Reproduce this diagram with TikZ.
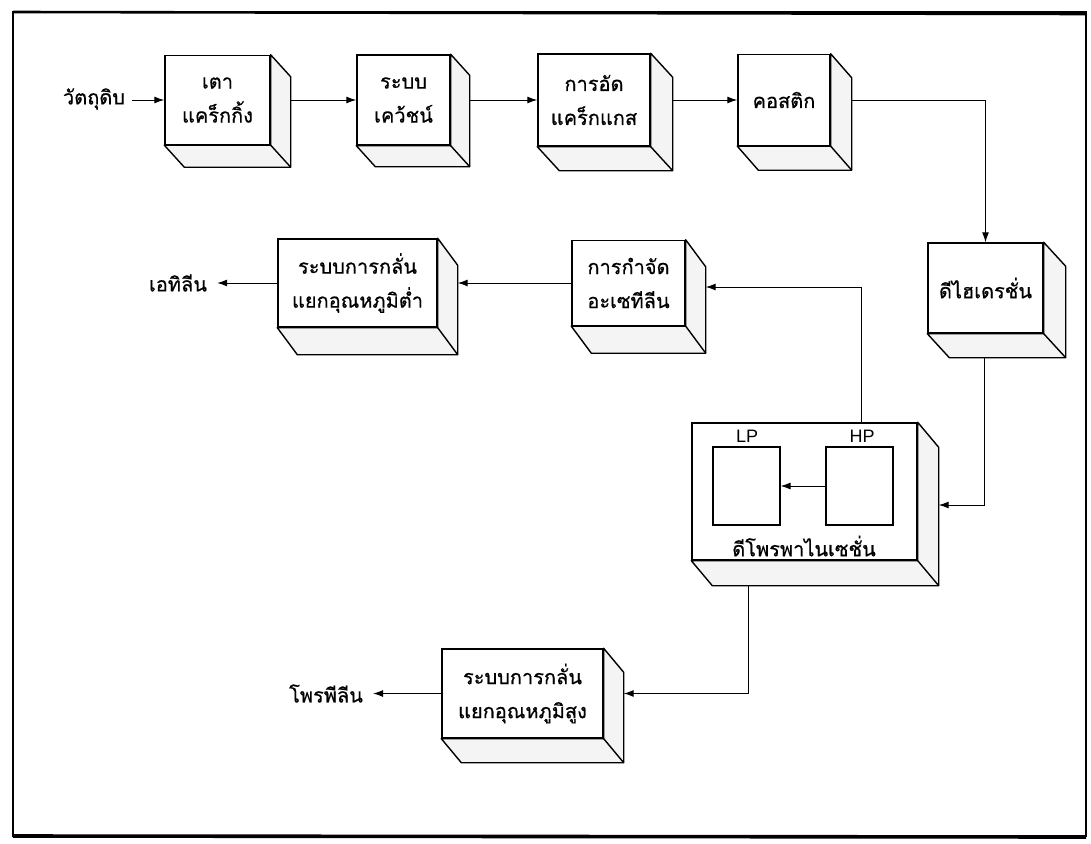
\documentclass[tikz,border=0pt]{standalone}
\usepackage{fontspec}
\setmainfont{Liberation Sans}
\newfontfamily\thaifont[Script=Thai,FakeBold=0.6]{Loma}
\usetikzlibrary{arrows.meta,calc}
\tikzset{
  face/.style={draw=black, line width=1.4pt, fill=white, inner sep=0pt, align=center,
    font=\thaifont\fontsize{20}{34}\selectfont},
  side/.style={draw=black, line width=1.4pt, fill=gray!9, line join=round},
  conn/.style={line width=1pt, -{Latex[length=10pt,width=7pt]}},
  lbl/.style={font=\thaifont\fontsize{20}{24}\selectfont, inner sep=0pt},
  smallbox/.style={draw, line width=1.2pt, inner sep=0pt, minimum width=67pt, minimum height=78pt},
  latin/.style={font=\fontsize{18}{20}\selectfont, inner sep=0pt},
}
\newcommand\cubesides[3]{%
  \filldraw[side] (#1.north east) -- ++(#2,#3) -- ($(#1.south east)+(#2,#3)$)
    -- ($(#1.south west)+(#2,#3)$) -- (#1.south west) -- (#1.south east) -- cycle;
  \draw[side,fill=none] (#1.south east) -- ++(#2,#3);
}
\begin{document}
\begin{tikzpicture}[x=1pt,y=-1pt]
\useasboundingbox (0,0) rectangle (1091,843);
% frame
\draw[line width=1.6pt] (13,12) rectangle (1086,836);
\draw[line width=2.6pt] (13,12) -- (1086,14);
\draw[line width=3.6pt] (13,836) -- (1086,837);

% top row
\node[face, minimum width=105pt, minimum height=89pt] (crack) at (217.5,100) {เตา\\แคร็กกิ้ง};
\cubesides{crack}{20}{22}
\node[face, minimum width=93pt, minimum height=90pt] (quench) at (403.5,100) {ระบบ\\เคว้ชน์};
\cubesides{quench}{19}{21}
\node[face, minimum width=112pt, minimum height=92pt] (comp) at (594,100) {การอัด\\แคร็กแกส};
\cubesides{comp}{22}{24}
\node[face, minimum width=92pt, minimum height=91pt] (caus) at (784,100) {คอสติก};
\cubesides{caus}{21}{24}
\node[face, minimum width=115pt, minimum height=90pt] (dehyd) at (985.5,288) {ดีไฮเดรชั่น};
\cubesides{dehyd}{22}{24}

% second row
\node[face, minimum width=113pt, minimum height=85pt] (acet) at (628.5,283) {การกำจัด\\อะเซทีลีน};
\cubesides{acet}{20}{27}
\node[face, minimum width=159pt, minimum height=88pt] (low) at (357.5,283) {ระบบการกลั่น\\แยกอุณหภูมิต่ำ};
\cubesides{low}{20}{27}

% depropanizer
\node[face, minimum width=225pt, minimum height=137pt] (dep) at (804.5,491.5) {};
\cubesides{dep}{21}{25}
\node[smallbox] (lp) at (746.5,486) {};
\node[smallbox] (hp) at (859.5,486) {};
\node[latin] (lpl) at (747,436) {LP};
\node[latin] (hpl) at (862,436) {HP};
\node[lbl] (deptxt) at (804,546) {ดีโพรพาไนเซชั่น};

% high temp
\node[face, minimum width=161pt, minimum height=89pt] (high) at (522.5,693.5) {ระบบการกลั่น\\แยกอุณหภูมิสูง};
\cubesides{high}{20}{24}

% labels
\node[lbl] (feed) at (94,99) {วัตถุดิบ};
\node[lbl] (eth) at (178,283) {เอทิลีน};
\node[lbl] (prop) at (326,693.5) {โพรพีลีน};

% connectors
\draw[conn] ($(crack.west)+(-32,0)$) -- (crack.west);
\draw[conn] ($(crack.east)+(20,0)$) -- (quench.west);
\draw[conn] ($(quench.east)+(19,0)$) -- (comp.west);
\draw[conn] ($(comp.east)+(22,0)$) -- (caus.west);
\draw[conn] ($(caus.east)+(21,0)$) -| (dehyd.north);
\draw[conn] ($(dehyd.south)+(-1.5,24)$) |- ($(dep.east)+(21,13.5)$);
\draw[conn] (hp.west) -- (lp.east);
\draw[conn] ($(dep.north)+(56.5,0)$) |- ($(acet.east)+(20,4)$);
\draw[conn] (acet.west) -- ($(low.east)+(20,0)$);
\draw[conn] (low.west) -- ($(eth.east)+(10,0)$);
\draw[conn] ($(dep.south)+(-56.5,25)$) |- ($(high.east)+(20,0)$);
\draw[conn] (high.west) -- ($(prop.east)+(10,0)$);
\end{tikzpicture}
\end{document}
